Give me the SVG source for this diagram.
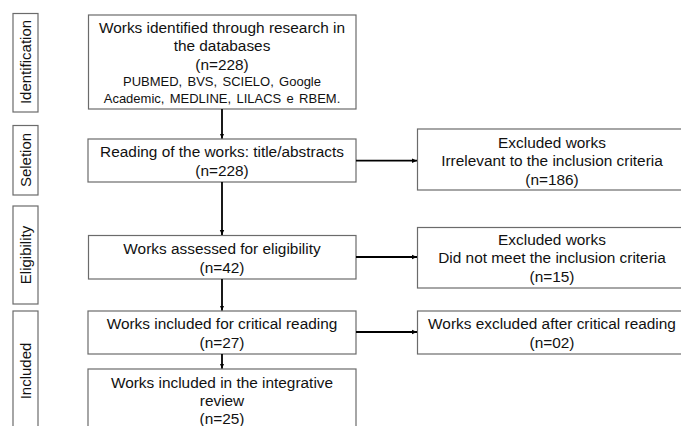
<svg xmlns="http://www.w3.org/2000/svg" width="681" height="426" viewBox="0 0 681 426">
<style>
.box{fill:#fff;stroke:#6b6b6b;stroke-width:1.2}
.t{font-family:"Liberation Sans",Arial,sans-serif;font-size:15.4px;fill:#111;text-anchor:middle}
.s{font-family:"Liberation Sans",Arial,sans-serif;font-size:13px;fill:#111;text-anchor:middle;word-spacing:1.7px}
.lbl{font-family:"Liberation Sans",Arial,sans-serif;font-size:15px;fill:#111;text-anchor:middle}
.c{stroke:#000;stroke-width:1.8;fill:none;marker-end:url(#ah)}
</style>
<defs>
<marker id="ah" markerWidth="6" markerHeight="6" refX="5" refY="3" orient="auto" markerUnits="userSpaceOnUse">
<path d="M0,0.8 L5,3 L0,5.2 Z" fill="#000"/>
</marker>
</defs>
<rect width="681" height="426" fill="#fff"/>
<g id="phase-identification">
<rect class="box" x="13" y="13.5" width="25" height="98.5"/>
<text class="lbl" transform="translate(30.5,62) rotate(-90)">Identification</text>
</g>
<g id="phase-selection">
<rect class="box" x="13" y="125.5" width="25" height="69.5"/>
<text class="lbl" transform="translate(30.5,160) rotate(-90)">Seletion</text>
</g>
<g id="phase-eligibility">
<rect class="box" x="13" y="206" width="25" height="98"/>
<text class="lbl" transform="translate(30.5,255) rotate(-90)">Eligibility</text>
</g>
<g id="phase-included">
<rect class="box" x="13" y="311" width="25" height="130"/>
<text class="lbl" transform="translate(30.5,371) rotate(-90)">Included</text>
</g>
<g id="identified">
<rect class="box" x="88.5" y="15" width="267.5" height="94"/>
<text class="t" x="222" y="32.5">Works identified through research in</text>
<text class="t" x="222" y="51">the databases</text>
<text class="t" x="222" y="70">(n=228)</text>
<text class="s" x="222" y="86">PUBMED, BVS, SCIELO, Google</text>
<text class="s" x="222" y="102.5">Academic, MEDLINE, LILACS e RBEM.</text>
</g>
<g id="reading">
<rect class="box" x="88" y="139" width="268" height="43"/>
<text class="t" x="222" y="156.5">Reading of the works: title/abstracts</text>
<text class="t" x="222" y="175.5">(n=228)</text>
</g>
<g id="eligibility">
<rect class="box" x="88.5" y="235.5" width="267.5" height="43.5"/>
<text class="t" x="222" y="253.5">Works assessed for eligibility</text>
<text class="t" x="222" y="272.5">(n=42)</text>
</g>
<g id="critical">
<rect class="box" x="88" y="311" width="268" height="43"/>
<text class="t" x="222" y="328.5">Works included for critical reading</text>
<text class="t" x="222" y="347.5">(n=27)</text>
</g>
<g id="integrative">
<rect class="box" x="88" y="369" width="268" height="70"/>
<text class="t" x="222" y="387.5">Works included in the integrative</text>
<text class="t" x="222" y="405.5">review</text>
<text class="t" x="222" y="424">(n=25)</text>
</g>
<g id="excluded-1">
<rect class="box" x="417.5" y="129" width="272" height="61"/>
<text class="t" x="552" y="147.5">Excluded works</text>
<text class="t" x="552" y="165.5">Irrelevant to the inclusion criteria</text>
<text class="t" x="552" y="184.5">(n=186)</text>
</g>
<g id="excluded-2">
<rect class="box" x="417.5" y="227.5" width="272" height="60.5"/>
<text class="t" x="552" y="244.5">Excluded works</text>
<text class="t" x="552" y="262.5">Did not meet the inclusion criteria</text>
<text class="t" x="552" y="281.5">(n=15)</text>
</g>
<g id="excluded-3">
<rect class="box" x="417.5" y="311" width="272" height="43"/>
<text class="t" x="552" y="328.5">Works excluded after critical reading</text>
<text class="t" x="552" y="347.5">(n=02)</text>
</g>
<g id="connectors">
<line class="c" x1="222" y1="109" x2="222" y2="138.5"/>
<line class="c" x1="222" y1="182" x2="222" y2="235"/>
<line class="c" x1="222" y1="279" x2="222" y2="310.5"/>
<line class="c" x1="222" y1="354" x2="222" y2="368.5"/>
<line class="c" x1="356" y1="160.7" x2="417" y2="160.7"/>
<line class="c" x1="356" y1="257" x2="417" y2="257"/>
<line class="c" x1="356" y1="332" x2="417" y2="332"/>
</g>
</svg>
